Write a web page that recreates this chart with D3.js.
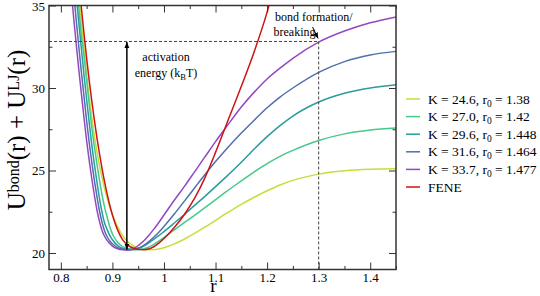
<!DOCTYPE html>
<html><head><meta charset="utf-8">
<script src="https://cdn.jsdelivr.net/npm/d3@7"></script>
<style>
html,body{margin:0;padding:0;background:#fff;}
svg{display:block;}
text{font-family:"Liberation Serif","Times New Roman",Times,serif;}
</style></head>
<body><svg id="chart" width="540" height="296"></svg>
<script>
// ---- data ----
const rGrid = [0.815,0.82,0.825,0.83,0.835,0.84,0.845,0.85,0.855,0.86,0.865,0.87,0.875,0.88,0.885,0.89,0.895,0.90,0.91,0.92,0.93,0.94,0.95,0.96,0.97,0.98,0.99,1.00,1.02,1.04,1.06,1.08,1.10,1.12,1.15,1.175,1.20,1.225,1.25,1.30,1.35,1.40,1.45];
const uK246 = [43.5,41.4,39.4,37.5,35.6,33.9,32.35,30.8,29.45,28.2,27.1,26.15,25.3,24.55,23.88,23.3,22.78,22.33,21.6,21.05,20.68,20.44,20.3,20.23,20.2,20.2,20.24,20.32,20.55,20.85,21.2,21.58,21.98,22.38,22.95,23.38,23.77,24.12,24.4,24.78,24.98,25.07,25.1];
const uK270 = [42.5,40.5,38.45,36.55,34.8,33.15,31.9,30.45,29.0,27.6,26.45,25.38,24.4,23.5,22.75,22.15,21.57,21.15,20.65,20.38,20.26,20.21,20.2,20.25,20.35,20.52,20.72,20.94,21.4,21.85,22.3,22.76,23.23,23.7,24.37,24.92,25.42,25.86,26.22,26.82,27.22,27.46,27.58];
const uK296 = [41.4,39.3,37.4,35.55,33.9,32.3,30.75,29.3,27.9,26.55,25.38,24.3,23.3,22.45,21.8,21.4,21.05,20.8,20.45,20.28,20.22,20.21,20.27,20.4,20.6,20.82,21.05,21.3,21.82,22.35,22.9,23.45,24.02,24.6,25.5,26.3,27.05,27.72,28.3,29.15,29.68,30.0,30.2];
const uK316 = [39.5,37.6,35.73,34.04,32.45,30.9,29.45,28.0,26.68,25.5,24.4,23.41,22.53,21.85,21.32,20.97,20.73,20.56,20.32,20.23,20.2,20.21,20.29,20.45,20.67,20.95,21.26,21.61,22.36,23.16,23.97,24.77,25.54,26.26,27.27,28.05,28.8,29.45,30.0,30.95,31.6,32.0,32.22];
const uK337 = [37.8,35.9,34.2,32.6,31.05,29.6,28.15,26.8,25.6,24.5,23.5,22.6,21.9,21.35,21.0,20.75,20.57,20.42,20.25,20.19,20.18,20.25,20.45,20.71,21.05,21.43,21.85,22.3,23.2,24.05,24.95,25.85,26.75,27.6,28.85,29.75,30.55,31.2,31.8,32.78,33.45,33.95,34.31];
const uFENE = [44.5,42.5,40.5,38.45,36.5,34.8,33.25,31.8,30.45,29.2,28.05,26.98,26.0,25.1,24.28,23.55,22.88,22.3,21.4,20.8,20.48,20.3,20.22,20.2,20.24,20.38,20.6,20.88,21.55,22.35,23.35,24.6,26.1,27.7,30.1,32.2,34.6,37.6,41.0,null,null,null,null];
const kLabels = ["24.6","27.0","29.6","31.6","33.7"];
const r0Labels = ["1.38","1.42","1.448","1.464","1.477"];
const seriesColors = ["#c3df3a","#46c98a","#2a9c9c","#4f6fae","#9448c0","#cc1414"];
const xTicks = [0.8,0.9,1.0,1.1,1.2,1.3,1.4];
const xTickLabels = ["0.8","0.9","1","1.1","1.2","1.3","1.4"];
const xMinor = [0.85,0.95,1.05,1.15,1.25,1.35,1.45];
const yTicks = [20,25,30,35];
const yMinor = [22.5,27.5,32.5];
const barrierU = 32.82, barrierR = 1.30, minR = 0.928, minU = 20.2;

// ---- layout ----
const svg = d3.select("#chart");
const L = 49, R = 396, T = 5.5, B = 269.5;
const x = d3.scaleLinear().domain([0.777, 1.45]).range([L, R]);
const y = d3.scaleLinear().domain([19, 35]).range([B, T]);
const axisColor = "#333";
const serif = "'Liberation Serif','Times New Roman',Times,serif";

const defs = svg.append("defs");
defs.append("clipPath").attr("id","clip")
  .append("rect").attr("x",L).attr("y",T).attr("width",R-L).attr("height",B-T);

const series = [uK246,uK270,uK296,uK316,uK337,uFENE];
const line = d3.line()
  .defined(d => d[1] != null)
  .x(d => x(d[0])).y(d => y(d[1]))
  .curve(d3.curveMonotoneX);

const g = svg.append("g").attr("clip-path","url(#clip)");
series.forEach((s,i) => {
  g.append("path").datum(rGrid.map((r,j)=>[r,s[j]]))
    .attr("d", line).attr("fill","none")
    .attr("stroke", seriesColors[i]).attr("stroke-width",1.5);
});

// dashed guides
svg.append("line").attr("x1",L).attr("x2",x(barrierR)).attr("y1",y(barrierU)).attr("y2",y(barrierU))
  .attr("stroke","#444").attr("stroke-width",1).attr("stroke-dasharray","3,2");
svg.append("line").attr("x1",x(barrierR)).attr("x2",x(barrierR)).attr("y1",y(barrierU)).attr("y2",B)
  .attr("stroke","#444").attr("stroke-width",1).attr("stroke-dasharray","3,2");

// arrow markers
defs.append("marker").attr("id","ah").attr("viewBox","0 0 10 10").attr("refX",10).attr("refY",5)
  .attr("markerWidth",6).attr("markerHeight",6).attr("orient","auto-start-reverse")
  .attr("markerUnits","userSpaceOnUse")
  .append("path").attr("d","M0,1 L10,5 L0,9 Z").attr("fill","#000");
svg.append("line").attr("x1",x(minR)).attr("x2",x(minR)).attr("y1",y(minU)).attr("y2",y(barrierU)+0.5)
  .attr("stroke","#000").attr("stroke-width",1.5)
  .attr("marker-start","url(#ah)").attr("marker-end","url(#ah)");
svg.append("line").attr("x1",312.5).attr("y1",27).attr("x2",x(barrierR)-0.5).attr("y2",y(barrierU)-3)
  .attr("stroke","#000").attr("stroke-width",1).attr("marker-end","url(#ah)");

// annotation texts
const ann = svg.append("g").attr("font-size",12).attr("fill","#000");
ann.append("text").attr("x",166).attr("y",61).attr("text-anchor","middle").text("activation");
const t2 = ann.append("text").attr("x",166).attr("y",76.5).attr("text-anchor","middle");
t2.append("tspan").text("energy (k");
t2.append("tspan").attr("font-size",8.5).attr("dy",3).text("B");
t2.append("tspan").attr("dy",-3).text("T)");
ann.append("text").attr("x",275).attr("y",21).text("bond formation/");
ann.append("text").attr("x",273.5).attr("y",35.5).text("breaking");

// axes
function drawAxis(axis, transform) {
  const a = svg.append("g").attr("transform", transform).call(axis);
  a.select(".domain").remove();
  a.selectAll(".tick line").attr("stroke",axisColor).attr("stroke-width",1);
  a.selectAll("text").attr("font-family",serif).attr("font-size",13).attr("fill","#000");
  return a;
}
drawAxis(d3.axisBottom(x).tickValues(xTicks).tickFormat((d,i)=>xTickLabels[i]).tickSize(-7).tickPadding(3), `translate(0,${B})`);
drawAxis(d3.axisBottom(x).tickValues(xMinor).tickFormat("").tickSize(-3.5), `translate(0,${B})`);
drawAxis(d3.axisTop(x).tickValues(xTicks).tickFormat("").tickSize(-7), `translate(0,${T})`);
drawAxis(d3.axisTop(x).tickValues(xMinor).tickFormat("").tickSize(-3.5), `translate(0,${T})`);
const yAx = drawAxis(d3.axisLeft(y).tickValues(yTicks).tickFormat(d3.format("d")).tickSize(-7).tickPadding(4), `translate(${L},0)`);
yAx.selectAll(".tick").filter(d => d === 35).select("text").attr("dy","0.42em");
drawAxis(d3.axisLeft(y).tickValues(yMinor).tickFormat("").tickSize(-3.5), `translate(${L},0)`);
drawAxis(d3.axisRight(y).tickValues(yTicks).tickFormat("").tickSize(-7), `translate(${R},0)`);
drawAxis(d3.axisRight(y).tickValues(yMinor).tickFormat("").tickSize(-3.5), `translate(${R},0)`);
svg.append("rect").attr("x",L).attr("y",T).attr("width",R-L).attr("height",B-T)
  .attr("fill","none").attr("stroke",axisColor).attr("stroke-width",1.5);

// axis titles
svg.append("text").attr("x",213.5).attr("y",291.5).attr("text-anchor","middle")
  .attr("font-size",19).text("r");
const yl = svg.append("text").attr("transform","translate(25,130) rotate(-90)")
  .attr("text-anchor","middle").attr("font-size",25);
yl.append("tspan").text("U");
yl.append("tspan").attr("font-size",16).attr("dy",-6).text("bond");
yl.append("tspan").attr("dy",6).text("(r) + U");
yl.append("tspan").attr("font-size",16).attr("dy",-6).text("LJ");
yl.append("tspan").attr("dy",6).text("(r)");

// legend
const leg = svg.append("g");
const legNames = kLabels.map((k,i)=>({k, r0:r0Labels[i]})).concat([{fene:true}]);
legNames.forEach((d,i) => {
  const yy = 99 + i*17.6;
  leg.append("line").attr("x1",406).attr("x2",420).attr("y1",yy).attr("y2",yy)
    .attr("stroke",seriesColors[i]).attr("stroke-width",1.5);
  const t = leg.append("text").attr("x",428).attr("y",yy+4.5).attr("font-size",13.5);
  if (d.fene) { t.text("FENE"); }
  else {
    t.append("tspan").text(`K = ${d.k}, r`);
    t.append("tspan").attr("font-size",9.5).attr("dy",3).text("0");
    t.append("tspan").attr("dy",-3).text(` = ${d.r0}`);
  }
});
</script></body></html>
